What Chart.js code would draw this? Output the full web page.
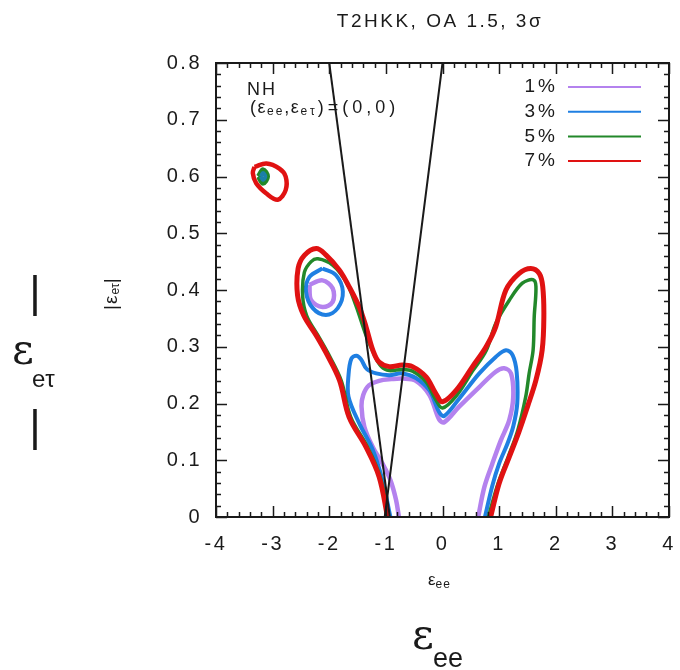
<!DOCTYPE html>
<html>
<head>
<meta charset="utf-8">
<script src="https://cdn.jsdelivr.net/npm/chart.js@4"></script>
<style>
  html, body { margin: 0; padding: 0; background: #fff; }
  canvas { display: block; }
</style>
</head>
<body>
<canvas id="nsiChart" width="680" height="670"></canvas>
<script>
/* ─── AXES ────────────────────────────────────────────────── */
const xTicks = [-4, -3, -2, -1, 0, 1, 2, 3, 4];
const yTicks = [0, 0.1, 0.2, 0.3, 0.4, 0.5, 0.6, 0.7, 0.8];

/* ─── LEGEND ──────────────────────────────────────────────── */
const legendLabels = ['1%', '3%', '5%', '7%'];

/* ─── CONTOURS (eps_ee, |eps_etau|) ───────────────────────── */
// 7%
const redX = [-0.97, -1.12, -1.35, -1.65, -1.82, -2.06, -2.23, -2.45, -2.56, -2.55, -2.44, -2.23, -2.06, -1.82, -1.65, -1.47, -1.35, -1.23, -1.12, -0.94, -0.71, -0.53, -0.29, -0.12, 0.0, 0.24, 0.53, 0.77, 0.94, 1.12, 1.35, 1.56, 1.71, 1.77, 1.79, 1.76, 1.65, 1.50, 1.35, 1.18, 1.00, 0.85];
const redY = [0.0, 0.071, 0.123, 0.176, 0.241, 0.290, 0.320, 0.355, 0.391, 0.438, 0.461, 0.473, 0.462, 0.435, 0.406, 0.370, 0.335, 0.294, 0.273, 0.265, 0.268, 0.265, 0.247, 0.218, 0.203, 0.223, 0.265, 0.300, 0.335, 0.400, 0.429, 0.438, 0.429, 0.406, 0.353, 0.294, 0.241, 0.194, 0.150, 0.106, 0.059, 0.0];
const redDotX = [-3.32, -3.11, -2.88, -2.77, -2.77, -2.91, -3.11, -3.29, -3.35, -3.32];
const redDotY = [0.617, 0.623, 0.614, 0.600, 0.576, 0.559, 0.570, 0.588, 0.606, 0.617];

// 5%
const greenX = [-0.95, -1.10, -1.32, -1.62, -1.79, -2.03, -2.20, -2.40, -2.47, -2.44, -2.32, -2.20, -1.94, -1.70, -1.53, -1.35, -1.20, -1.08, -0.94, -0.71, -0.53, -0.29, -0.12, 0.0, 0.24, 0.53, 0.77, 0.94, 1.18, 1.41, 1.60, 1.65, 1.62, 1.60, 1.53, 1.47, 1.33, 1.16, 0.98, 0.81];
const greenY = [0.0, 0.071, 0.123, 0.176, 0.241, 0.290, 0.320, 0.355, 0.390, 0.431, 0.450, 0.455, 0.444, 0.414, 0.373, 0.320, 0.285, 0.265, 0.258, 0.260, 0.257, 0.238, 0.207, 0.192, 0.213, 0.257, 0.293, 0.341, 0.382, 0.412, 0.418, 0.406, 0.353, 0.294, 0.253, 0.212, 0.153, 0.106, 0.059, 0.0];
const greenDotX = [-3.25, -3.17, -3.09, -3.17, -3.25];
const greenDotY = [0.600, 0.612, 0.600, 0.588, 0.600];

// 3%
const blueX = [-0.92, -1.06, -1.23, -1.47, -1.66, -1.66, -1.61, -1.52, -1.44, -1.34, -1.17, -0.94, -0.71, -0.47, -0.23, -0.06, 0.03, 0.29, 0.65, 0.94, 1.12, 1.24, 1.31, 1.32, 1.25, 1.15, 1.0, 0.88, 0.75];
const blueY = [0.0, 0.065, 0.118, 0.165, 0.212, 0.250, 0.279, 0.284, 0.278, 0.261, 0.253, 0.250, 0.253, 0.245, 0.223, 0.185, 0.178, 0.208, 0.253, 0.282, 0.294, 0.285, 0.255, 0.200, 0.160, 0.130, 0.094, 0.055, 0.0];
const blueLobeX = [-2.12, -1.88, -1.76, -1.85, -2.06, -2.29, -2.41, -2.35, -2.12];
const blueLobeY = [0.438, 0.426, 0.397, 0.368, 0.356, 0.368, 0.397, 0.423, 0.438];
const blueDotX = [-3.21, -3.17, -3.13, -3.17, -3.21];
const blueDotY = [0.600, 0.606, 0.600, 0.594, 0.600];

// 1%
const purpleX = [-0.77, -0.82, -0.92, -1.06, -1.23, -1.38, -1.43, -1.40, -1.30, -1.12, -0.90, -0.70, -0.47, -0.23, -0.06, 0.03, 0.29, 0.65, 0.94, 1.09, 1.21, 1.25, 1.18, 1.03, 0.88, 0.74, 0.63];
const purpleY = [0.0, 0.030, 0.065, 0.094, 0.123, 0.159, 0.194, 0.215, 0.232, 0.240, 0.243, 0.244, 0.240, 0.215, 0.172, 0.167, 0.194, 0.229, 0.256, 0.262, 0.253, 0.212, 0.171, 0.135, 0.094, 0.053, 0.0];
const purpleLobeX = [-2.35, -2.12, -1.94, -1.94, -2.12, -2.32, -2.35];
const purpleLobeY = [0.409, 0.417, 0.403, 0.379, 0.370, 0.382, 0.409];

// straight black lines
const line1X = [-2.0, -0.93];
const line1Y = [0.8, 0.0];
const line2X = [0.0, -1.02];
const line2Y = [0.8, 0.0];

/* ─── STYLE ───────────────────────────────────────────────── */
const C_PURPLE = '#b482ee';
const C_BLUE   = '#1f7fe2';
const C_GREEN  = '#22882a';
const C_RED    = '#e01212';
const INK      = '#1a1a1a';
const SANS     = '"Liberation Sans", Arial, sans-serif';
const SERIF    = '"DejaVu Serif", "Liberation Serif", serif';

const pts = (xs, ys) => xs.map((v, i) => ({ x: v, y: ys[i] }));

function curve(label, xs, ys, color, width, order) {
  return {
    label,
    data: pts(xs, ys),
    showLine: true,
    borderColor: color,
    borderWidth: width,
    pointRadius: 0,
    tension: 0.35,
    fill: false,
    order,
  };
}

/* ─── TEXT HELPER ─────────────────────────────────────────── */
function put(ctx, s, x, y, size, opts = {}) {
  ctx.font = `${size}px ${opts.family || SANS}`;
  ctx.textAlign = opts.align || 'left';
  ctx.textBaseline = 'middle';
  ctx.letterSpacing = opts.sp || '0px';
  ctx.fillStyle = opts.color || INK;
  ctx.fillText(s, x, y);
  return ctx.measureText(s).width;
}

/* ─── FRAME / ANNOTATION PLUGIN ───────────────────────────── */
const framePlugin = {
  id: 'frame',
  beforeDraw(chart) {
    chart.ctx.letterSpacing = '2.5px';
  },
  afterDraw(chart) {
    const { ctx, chartArea: a, scales: { x, y } } = chart;
    ctx.save();

    // box
    ctx.strokeStyle = INK;
    ctx.lineWidth = 2;
    ctx.strokeRect(a.left, a.top, a.right - a.left, a.bottom - a.top);

    // inward ticks, all four sides
    ctx.lineWidth = 1.5;
    ctx.beginPath();
    for (let i = 0; i <= 40; i++) {
      const px = Math.round(x.getPixelForValue(-4 + i * 0.2)) + 0.5;
      const len = i % 5 === 0 ? 11 : 5;
      ctx.moveTo(px, a.bottom); ctx.lineTo(px, a.bottom - len);
      ctx.moveTo(px, a.top);    ctx.lineTo(px, a.top + len);
    }
    for (let i = 0; i <= 40; i++) {
      const py = Math.round(y.getPixelForValue(i * 0.02)) + 0.5;
      const len = i % 5 === 0 ? 11 : 5;
      ctx.moveTo(a.left, py);  ctx.lineTo(a.left + len, py);
      ctx.moveTo(a.right, py); ctx.lineTo(a.right - len, py);
    }
    ctx.stroke();

    // title
    put(ctx, 'T2HKK, OA 1.5, 3σ', 440, 22, 19, { align: 'center', sp: '2.5px' });

    // NH label
    put(ctx, 'NH', 247, 90, 18, { sp: '2px' });
    let cx = 250;
    cx += put(ctx, '(ε', cx, 108, 18, { sp: '1.5px' });
    cx += put(ctx, 'ee', cx, 112, 12, { sp: '2px' });
    cx += put(ctx, ',ε', cx, 108, 18, { sp: '1.5px' });
    cx += put(ctx, 'eτ', cx, 112, 12, { sp: '3px' });
    put(ctx, ')=(0,0)', cx, 108, 18, { sp: '4px' });

    // legend
    legendLabels.forEach((lab, i) => {
      const ly = 87 + i * 24.7;
      put(ctx, lab, 558, ly, 19, { align: 'right', sp: '3px' });
      ctx.strokeStyle = [C_PURPLE, C_BLUE, C_GREEN, C_RED][i];
      ctx.lineWidth = 2;
      ctx.beginPath();
      ctx.moveTo(568, ly); ctx.lineTo(641, ly);
      ctx.stroke();
    });

    // small axis titles
    let sx = 428;
    sx += put(ctx, 'ε', sx, 580, 17);
    put(ctx, 'ee', sx, 585, 12, { sp: '1px' });

    ctx.save();
    ctx.translate(112, 289);
    ctx.rotate(-Math.PI / 2);
    let rx = -21;
    rx += put(ctx, '|ε', rx, 0, 19, { sp: '1px' });
    rx += put(ctx, 'eτ', rx, 4, 12);
    put(ctx, '|', rx, 0, 19);
    ctx.restore();

    // large outer labels
    put(ctx, 'ε', 412, 638, 42, { family: SERIF });
    put(ctx, 'ee', 433, 660, 27);

    put(ctx, '|', 35, 295, 44, { align: 'center' });
    put(ctx, 'ε', 12, 353, 42, { family: SERIF });
    put(ctx, 'eτ', 32, 380, 24);
    put(ctx, '|', 35, 429, 44, { align: 'center' });

    ctx.restore();
  },
};

/* ─── CHART ───────────────────────────────────────────────── */
const ctx = document.getElementById('nsiChart').getContext('2d');

new Chart(ctx, {
  type: 'scatter',
  data: {
    datasets: [
      curve('line1', line1X, line1Y, INK, 2, 0),
      curve('line2', line2X, line2Y, INK, 2, 0),
      curve('7%', redX, redY, C_RED, 5, 1),
      curve('7% dot', redDotX, redDotY, C_RED, 4.5, 1),
      curve('5%', greenX, greenY, C_GREEN, 3.5, 2),
      curve('5% dot', greenDotX, greenDotY, C_GREEN, 5, 2),
      curve('3%', blueX, blueY, C_BLUE, 4, 3),
      curve('3% lobe', blueLobeX, blueLobeY, C_BLUE, 4, 3),
      curve('3% dot', blueDotX, blueDotY, '#1b7fa8', 4, 1),
      curve('1%', purpleX, purpleY, C_PURPLE, 4.5, 4),
      curve('1% lobe', purpleLobeX, purpleLobeY, C_PURPLE, 4.5, 4),
    ],
  },
  options: {
    responsive: false,
    animation: false,
    events: [],
    layout: { padding: { left: 0, top: 63, right: 11, bottom: 103 } },
    plugins: { legend: { display: false }, tooltip: { enabled: false } },
    scales: {
      x: {
        type: 'linear',
        min: -4,
        max: 4,
        afterBuildTicks: s => { s.ticks = xTicks.map(v => ({ value: v })); },
        afterFit: s => { s.height = 50; s.paddingLeft = 0; s.paddingRight = 0; },
        grid: { display: false, drawTicks: false },
        border: { display: false },
        ticks: {
          autoSkip: false,
          maxRotation: 0,
          padding: 15,
          color: INK,
          font: { family: SANS, size: 20 },
          callback: v => String(v),
        },
      },
      y: {
        type: 'linear',
        min: 0,
        max: 0.8,
        afterBuildTicks: s => { s.ticks = yTicks.map(v => ({ value: v })); },
        afterFit: s => { s.width = 216; s.paddingTop = 0; s.paddingBottom = 0; },
        grid: { display: false, drawTicks: false },
        border: { display: false },
        ticks: {
          autoSkip: false,
          padding: 14,
          color: INK,
          font: { family: SANS, size: 20 },
          callback: v => (v === 0 ? '0' : v.toFixed(1)),
        },
      },
    },
  },
  plugins: [framePlugin],
});
</script>
</body>
</html>
